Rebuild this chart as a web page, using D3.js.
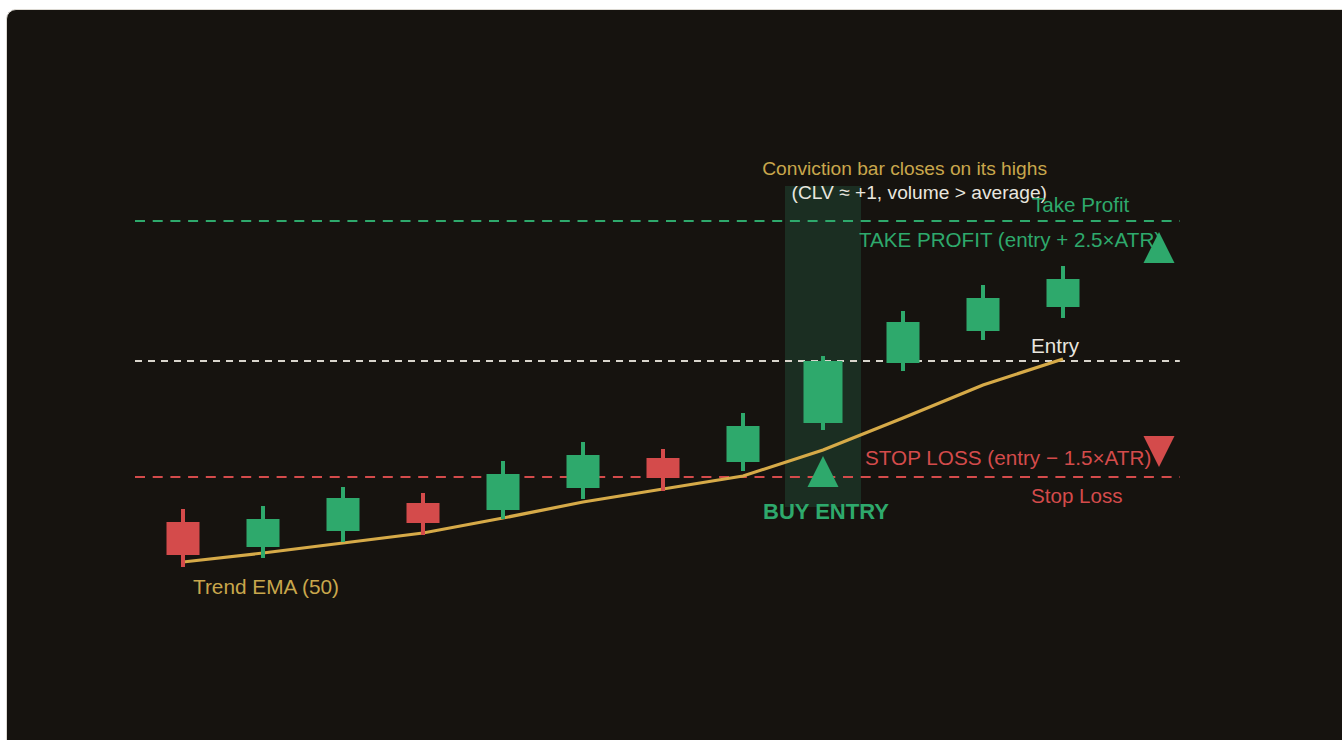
<!DOCTYPE html>
<html>
<head>
<meta charset="utf-8">
<script src="https://cdn.jsdelivr.net/npm/d3@7"></script>
<style>
  html, body { margin: 0; padding: 0; background: #ffffff; overflow: hidden; }
  #frame {
    position: absolute; left: 6px; top: 9px; width: 1420px; height: 820px;
    background: #16130f; border: 1.5px solid #dcd9d2; border-radius: 10px; box-sizing: border-box;
  }
  svg { position: absolute; left: 0; top: 0; }
  text { font-family: "Liberation Sans", Arial, sans-serif; }
</style>
</head>
<body>
<div id="frame"></div>
<svg id="chart" width="1342" height="740"></svg>
<script>
// ---- data ----
const bars   = [1, 2, 3, 4, 5, 6, 7, 8, 9, 10, 11, 12];
const opens  = [83.9, 81.4, 83.0, 85.8, 85.1, 87.3, 90.3, 89.9, 93.8, 99.8, 103.0, 105.4];
const highs  = [85.2, 85.5, 87.4, 86.8, 90.0, 91.9, 91.2, 94.8, 100.5, 105.0, 107.6, 109.5];
const lows   = [79.4, 80.3, 81.9, 82.6, 84.2, 86.2, 87.0, 89.0, 93.1, 99.0, 102.1, 104.3];
const closes = [80.6, 84.2, 86.3, 83.8, 88.7, 90.6, 88.3, 93.5, 100.0, 103.9, 106.3, 108.2];
const ema50  = [79.9, 80.8, 81.8, 82.8, 84.3, 85.9, 87.2, 88.5, 91.1, 94.3, 97.6, 100.2];
const entryLevel = 100.0;
const takeProfitLevel = 114.0;
const stopLossLevel = 88.4;
const convictionBar = 9;

// ---- style ----
const GREEN = "#2ea96c", RED = "#d44b4b", GOLD = "#d6aa48", GOLD_TXT = "#c9a74c", WHITE = "#e9e6df";

const svg = d3.select("#chart");
const x = d3.scaleLinear().domain([1, 12]).range([183, 1063]);
const y = d3.scaleLinear().domain([80, 120]).range([561, 161]);
const step = x(2) - x(1);
const lineX0 = x(1) - step * 0.6, lineX1 = x(12) + step * 1.46;

// conviction highlight
svg.append("rect")
  .attr("x", x(convictionBar) - step * 0.475).attr("width", step * 0.95)
  .attr("y", y(117.5)).attr("height", y(85.4) - y(117.5))
  .attr("fill", "#1b2e22");

// level lines
function level(v, color, dash) {
  svg.append("line").attr("x1", lineX0).attr("x2", lineX1)
    .attr("y1", y(v)).attr("y2", y(v))
    .attr("stroke", color).attr("stroke-width", 2).attr("stroke-dasharray", dash);
}
level(takeProfitLevel, GREEN, "10 7.7");
level(entryLevel, "#d9d5cc", "7 6");
level(stopLossLevel, RED, "10 7.7");

// EMA
svg.append("path")
  .datum(bars.map((b, i) => [b, ema50[i]]))
  .attr("d", d3.line().x(d => x(d[0])).y(d => y(d[1])))
  .attr("fill", "none").attr("stroke", GOLD).attr("stroke-width", 3.2);

// candles
const cg = svg.append("g");
bars.forEach((b, i) => {
  const up = closes[i] >= opens[i];
  const col = up ? GREEN : RED;
  const w = b === convictionBar ? 39 : 33;
  cg.append("rect").attr("x", x(b) - 2).attr("width", 4)
    .attr("y", y(highs[i])).attr("height", y(lows[i]) - y(highs[i])).attr("fill", col);
  cg.append("rect").attr("x", x(b) - w / 2).attr("width", w)
    .attr("y", y(Math.max(opens[i], closes[i])))
    .attr("height", Math.abs(y(opens[i]) - y(closes[i]))).attr("fill", col);
});

// labels
function label(txt, px, py, color, size, anchor, weight) {
  svg.append("text").attr("x", px).attr("y", py).text(txt)
    .attr("fill", color).attr("font-size", size)
    .attr("text-anchor", anchor || "start").attr("font-weight", weight || "normal");
}
label("Conviction bar closes on its highs", 1047, 175, GOLD_TXT, 19.2, "end");
label("(CLV ≈ +1, volume > average)", 1047, 199, WHITE, 19.2, "end");
label("Take Profit", 1032, 212, GREEN, 20.6);
label("TAKE PROFIT (entry + 2.5×ATR)", 859, 247, GREEN, 20.6);
label("Entry", 1031, 353, WHITE, 20.6);
label("STOP LOSS (entry − 1.5×ATR)", 865, 465, RED, 20.7);
label("Stop Loss", 1031, 503, RED, 20.6);
label("BUY ENTRY", x(convictionBar) + 3, 519, GREEN, 22, "middle", "bold");
label("Trend EMA (50)", 193, 594, GOLD_TXT, 20.8);

// triangles (apex, base in price units; half width in bar units)
function triangle(cx, apex, base, color) {
  const hw = 0.194;
  const pts = [[cx, apex], [cx - hw, base], [cx + hw, base]];
  svg.append("path")
    .attr("d", d3.line().x(d => x(d[0])).y(d => y(d[1]))(pts) + "Z")
    .attr("fill", color);
}
triangle(convictionBar, 90.5, 87.4, GREEN);
triangle(13.2, 112.9, 109.8, GREEN);
triangle(13.2, 89.4, 92.5, RED);
</script>
</body>
</html>
